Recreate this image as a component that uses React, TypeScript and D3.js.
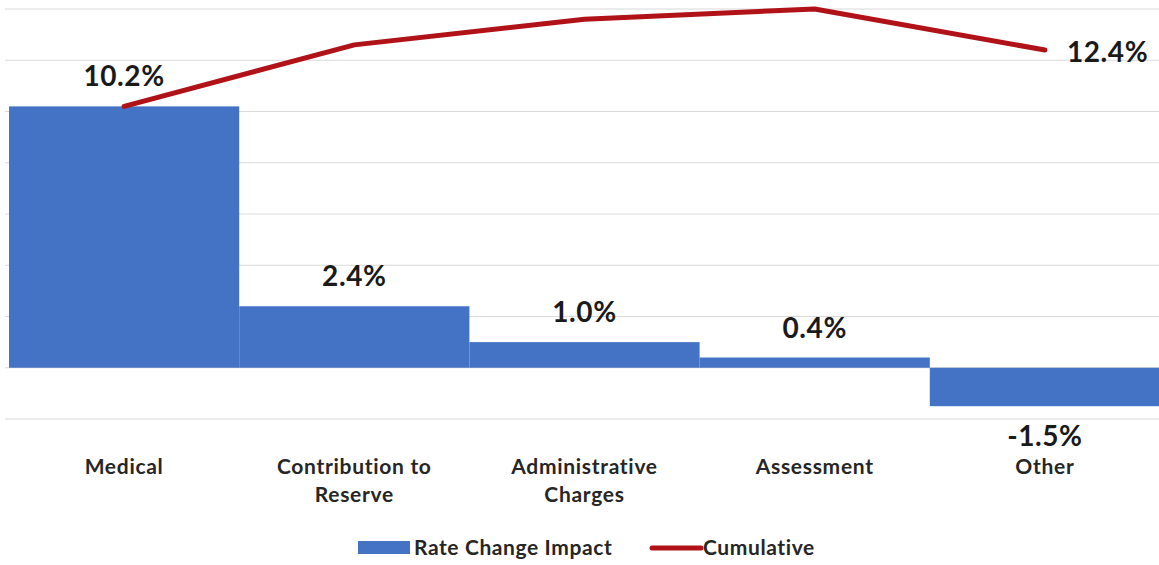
import React from "react"
import * as d3 from "d3"

const categories = ["Medical", "Contribution to|Reserve", "Administrative|Charges", "Assessment", "Other"]
const impact = [10.2, 2.4, 1.0, 0.4, -1.5]
const cumulative = [10.2, 12.6, 13.6, 14.0, 12.4]
const impactLabels = ["10.2%", "2.4%", "1.0%", "0.4%", "-1.5%"]
const lastCumLabel = "12.4%"
const gridTicks = [-2, 0, 2, 4, 6, 8, 10, 12, 14]

const W = 1159
const H = 565
const BLUE = "#4472C4"
const RED = "#B01218"
const FONT = "Lato, 'Open Sans', sans-serif"

export default function App() {
  const x = d3.scaleBand<number>().domain(d3.range(categories.length)).range([9, 1160]).padding(0)
  const y = d3.scaleLinear().domain([-2, 14]).range([419, 9])
  const cx = (i: number) => x(i)! + x.bandwidth() / 2

  const line = d3
    .line<number>()
    .x((_, i) => cx(i))
    .y((d) => y(d))

  const last = cumulative.length - 1

  return (
    <svg
      width={W}
      height={H}
      style={{ position: "absolute", left: 0, top: 0, background: "#fff" }}
      fontFamily={FONT}
    >
      {/* gridlines */}
      {gridTicks.map((t) => (
        <line key={t} x1={5} x2={W} y1={y(t)} y2={y(t)} stroke="#d9d9d9" strokeWidth={1.2} />
      ))}

      {/* bars */}
      {impact.map((v, i) => (
        <rect
          key={i}
          x={x(i)}
          width={x.bandwidth()}
          y={y(Math.max(0, v))}
          height={Math.abs(y(v) - y(0))}
          fill={BLUE}
        />
      ))}

      {/* cumulative line */}
      <path d={line(cumulative) || ""} fill="none" stroke={RED} strokeWidth={5} strokeLinejoin="round" strokeLinecap="round" />

      {/* bar labels */}
      {impact.map((v, i) => (
        <text
          key={i}
          x={cx(i)}
          y={v >= 0 ? y(v) - 20 : y(v) + 40}
          textAnchor="middle"
          fontSize={28}
          fontWeight={700}
          letterSpacing={0.6}
          fill="#1a1a1a"
        >
          {impactLabels[i]}
        </text>
      ))}

      {/* last cumulative label */}
      <text
        x={cx(last) + 22}
        y={y(cumulative[last]) + 12}
        fontSize={28}
        fontWeight={700}
        letterSpacing={0.6}
        fill="#1a1a1a"
      >
        {lastCumLabel}
      </text>

      {/* category labels */}
      {categories.map((c, i) => (
        <text
          key={i}
          x={cx(i)}
          y={474}
          textAnchor="middle"
          fontSize={21}
          fontWeight={700}
          letterSpacing={0.7}
          fill="#262626"
        >
          {c.split("|").map((part, j) => (
            <tspan key={j} x={cx(i)} dy={j === 0 ? 0 : 28}>
              {part}
            </tspan>
          ))}
        </text>
      ))}

      {/* legend */}
      <rect x={358} y={541} width={52} height={13} fill={BLUE} />
      <text x={414} y={555} fontSize={21} fontWeight={700} letterSpacing={0.6} fill="#262626">
        Rate Change Impact
      </text>
      <line x1={652} x2={701} y1={548} y2={548} stroke={RED} strokeWidth={5} strokeLinecap="round" />
      <text x={703} y={555} fontSize={21} fontWeight={700} letterSpacing={0.6} fill="#262626">
        Cumulative
      </text>
    </svg>
  )
}
